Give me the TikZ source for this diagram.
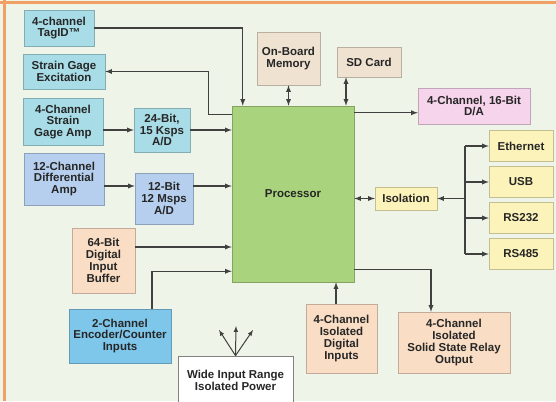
\documentclass[tikz,border=0pt]{standalone}
\usepackage{fontspec}
\setsansfont{Liberation Sans}
\usetikzlibrary{arrows}
\definecolor{bgmint}{RGB}{238,245,232}
\definecolor{frameorange}{RGB}{240,160,100}
\definecolor{tealbox}{RGB}{168,220,230}
\definecolor{bluebox}{RGB}{182,207,238}
\definecolor{encbox}{RGB}{126,198,234}
\definecolor{peachbox}{RGB}{249,221,196}
\definecolor{tanbox}{RGB}{239,226,208}
\definecolor{pinkbox}{RGB}{246,212,236}
\definecolor{yellowbox}{RGB}{252,243,186}
\definecolor{procgreen}{RGB}{169,211,124}
\definecolor{wiregray}{RGB}{64,64,64}
\begin{document}
\begin{tikzpicture}[x=1pt,y=-1pt,>=latex,
    box/.style={draw=#1!78!black,fill=#1,line width=0.5pt,align=center,inner sep=1pt,
      font=\sffamily\bfseries\fontsize{11.5}{11.8}\selectfont,text=black!85},
    wire/.style={draw=wiregray,line width=1.3pt}]
    \useasboundingbox (0,0) rectangle (556,401);
    \fill[bgmint] (0,0) rectangle (556,401);
    \draw[frameorange,line width=3pt] (0,2.5) -- (556,2.5);
    \draw[frameorange,line width=3pt] (4.5,0) -- (4.5,401);

    % left column
    \node[box=tealbox,minimum width=70pt,minimum height=36pt] (tag) at (59,28) {4-channel\\TagID™};
    \node[box=tealbox,minimum width=82pt,minimum height=35pt] (exc) at (64,71.5) {Strain Gage\\Excitation};
    \node[box=tealbox,minimum width=80pt,minimum height=47pt] (amp) at (63,122) {4-Channel\\Strain\\Gage Amp};
    \node[box=tealbox,minimum width=56pt,minimum height=44pt] (adA) at (162,130) {24-Bit,\\15 Ksps\\A/D};
    \node[box=bluebox,minimum width=80pt,minimum height=52pt] (diff) at (64,179) {12-Channel\\Differential\\Amp};
    \node[box=bluebox,minimum width=58pt,minimum height=51pt] (adB) at (164,198.5) {12-Bit\\12 Msps\\A/D};
    \node[box=peachbox,minimum width=63pt,minimum height=65pt] (buf) at (103.5,260.5) {64-Bit\\Digital\\Input\\Buffer};
    \node[box=encbox,minimum width=102pt,minimum height=54pt] (enc) at (120,336) {2-Channel\\Encoder/Counter\\Inputs};
    \node[box=white,draw=black!50,line width=0.8pt,minimum width=115pt,minimum height=48pt] (pwr) at (235.5,380) {Wide Input Range\\Isolated Power};

    % centre
    \node[box=procgreen,minimum width=122pt,minimum height=176pt] (proc) at (293,194) {Processor};
    \node[box=tanbox,minimum width=63pt,minimum height=53pt] (mem) at (288.5,58.5) {On-Board\\Memory};
    \node[box=tanbox,minimum width=64pt,minimum height=30pt] (sd) at (369,62) {SD Card};
    \node[box=pinkbox,minimum width=112pt,minimum height=36pt] (da) at (474,106) {4-Channel, 16-Bit\\D/A};
    \node[box=yellowbox,minimum width=62pt,minimum height=23pt] (iso) at (406,198.5) {Isolation};
    \node[box=peachbox,minimum width=71pt,minimum height=69pt] (din) at (341.5,338.5) {4-Channel\\Isolated\\Digital\\Inputs};
    \node[box=peachbox,minimum width=112pt,minimum height=61pt] (ssr) at (454,342.5) {4-Channel\\Isolated\\Solid State Relay\\Output};

    % interfaces
    \node[box=yellowbox,minimum width=64pt,minimum height=31pt] (eth) at (521,146) {Ethernet};
    \node[box=yellowbox,minimum width=64pt,minimum height=31pt] (usb) at (521,182) {USB};
    \node[box=yellowbox,minimum width=64pt,minimum height=31pt] (rsA) at (521,218) {RS232};
    \node[box=yellowbox,minimum width=64pt,minimum height=31pt] (rsB) at (521,254) {RS485};

    % helper points
    \coordinate (tIn) at ([xshift=11pt]proc.north west);
    \coordinate (xOut) at ([yshift=-9pt]proc.north west);
    \coordinate (dB) at ([yshift=-7pt]diff.east);
    \coordinate (bO) at ([yshift=13.5pt]buf.east);
    \coordinate (eO) at ([xshift=32pt]enc.north);
    \coordinate (eIn) at ([yshift=11pt]proc.south west);
    \coordinate (sdO) at ([xshift=-23pt]sd.south);
    \coordinate (pD) at ([yshift=-7pt]proc.north east);
    \coordinate (dO) at ([xshift=-5.5pt]din.north);
    \coordinate (pS) at ([yshift=13pt]proc.south east);
    \coordinate (sIn) at ([xshift=-23pt]ssr.north);
    \coordinate (bus) at (465,198.5);
    \coordinate (fanL) at (219,330);
    \coordinate (fanM) at (236,326);
    \coordinate (fanR) at (253,330);

    % connectors
    \draw[wire,->] (tag.east) -| (tIn);
    \draw[wire,->] (xOut) -- ++(-23,0) |- (exc.east);
    \draw[wire,->] (adA.west -| amp.east) -- (adA.west);
    \draw[wire,->] (adA.east) -- (adA.east -| proc.west);
    \draw[wire,->] (dB) -- (dB -| adB.west);
    \draw[wire,->] (dB -| adB.east) -- (dB -| proc.west);
    \draw[wire,->] (bO) -- (bO -| proc.west);
    \draw[wire,->] (eO) |- (eIn);
    \draw[wire,<->] (mem.south) -- (mem.south |- proc.north);
    \draw[wire,<->] (sdO) -- (sdO |- proc.north);
    \draw[wire,->] (pD) -- (pD -| da.west);
    \draw[wire,<->] (iso.west -| proc.east) -- (iso.west);
    \draw[wire,->] (bus) -- (iso.east);
    \draw[wire] (eth.west -| bus) -- (rsB.west -| bus);
    \foreach \n in {eth,usb,rsA,rsB}
      \draw[wire,->] (\n.west -| bus) -- (\n.west);
    \draw[wire,->] (dO) -- (dO |- proc.south);
    \draw[wire,->] (pS) -| (sIn);
    \foreach \f in {fanL,fanM,fanR}
      \draw[wire,line width=1pt,->] (pwr.north) -- (\f);
\end{tikzpicture}
\end{document}
